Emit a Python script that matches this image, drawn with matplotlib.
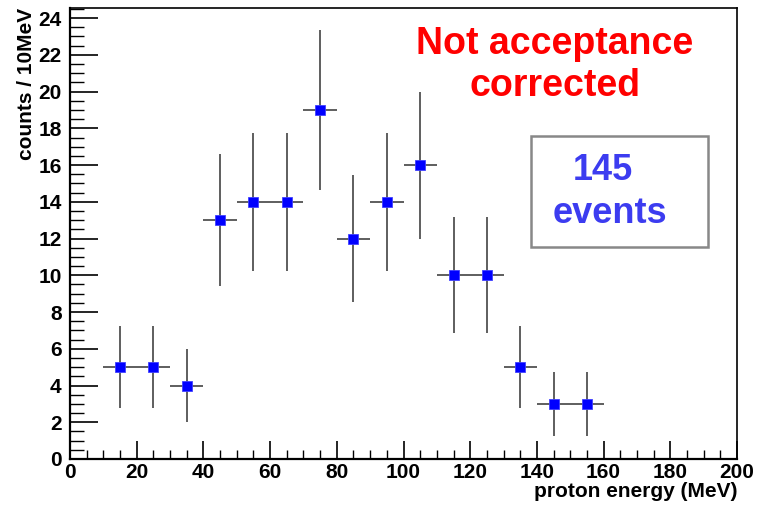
import matplotlib
matplotlib.use("Agg")
import matplotlib.pyplot as plt
from matplotlib.ticker import MultipleLocator
from matplotlib.patches import Rectangle

plt.rcParams['font.family'] = ['Liberation Sans', 'DejaVu Sans']

energy = [15, 25, 35, 45, 55, 65, 75, 85, 95, 105, 115, 125, 135, 145, 155]
counts = [5, 5, 4, 13, 14, 14, 19, 12, 14, 16, 10, 10, 5, 3, 3]
count_err = [2.24, 2.24, 2.0, 3.61, 3.74, 3.74, 4.36, 3.46, 3.74, 4.0, 3.16, 3.16, 2.24, 1.73, 1.73]
bin_half = [5] * len(energy)

fig = plt.figure(figsize=(7.57, 5.08), dpi=100)
ax = fig.add_axes([70/757, 49/508, 667/757, 451/508])

ax.errorbar(energy, counts, yerr=count_err, xerr=bin_half, fmt='s', color='#0000ff',
            markersize=7.2, markeredgecolor='#4040ff', markeredgewidth=0.6,
            ecolor='#333333', elinewidth=1.1, capsize=0, zorder=3)

ax.set_xlim(0, 200)
ax.set_ylim(0, 24.55)
ax.xaxis.set_major_locator(MultipleLocator(20))
ax.xaxis.set_minor_locator(MultipleLocator(5))
ax.yaxis.set_major_locator(MultipleLocator(2))
ax.yaxis.set_minor_locator(MultipleLocator(0.5))

for s in ['top', 'right']:
    ax.spines[s].set_linewidth(1.2)
for s in ['left', 'bottom']:
    ax.spines[s].set_linewidth(1.6)

ax.tick_params(axis='x', which='major', direction='in', length=13, width=1.2, labelsize=15, pad=3)
ax.tick_params(axis='x', which='minor', direction='in', length=6.5, width=1.0)
ax.tick_params(axis='y', which='major', direction='in', length=20, width=1.2, labelsize=15, pad=6)
ax.tick_params(axis='y', which='minor', direction='in', length=10, width=1.0)
for lab in ax.get_xticklabels() + ax.get_yticklabels():
    lab.set_fontweight('bold')

ax.set_xlabel('proton energy (MeV)', fontsize=15, fontweight='bold', loc='right', labelpad=0)
ax.set_ylabel('counts / 10MeV', fontsize=15, fontweight='bold', loc='top', labelpad=2)

fig.text(555/757, 1 - 44/508, 'Not acceptance', color='#ff0000', fontsize=27,
         fontweight='bold', ha='center', va='center')
fig.text(555/757, 1 - 86/508, 'corrected', color='#ff0000', fontsize=27,
         fontweight='bold', ha='center', va='center')

box = Rectangle((531/757, 1 - 247/508), 177/757, 111/508, transform=fig.transFigure,
                fill=False, edgecolor='#888888', linewidth=1.8)
fig.add_artist(box)
fig.text(603/757, 1 - 170/508, '145', color='#3c3cf0', fontsize=26,
         fontweight='bold', ha='center', va='center')
fig.text(610/757, 1 - 214/508, 'events', color='#3c3cf0', fontsize=26,
         fontweight='bold', ha='center', va='center')

fig.savefig('out.png', dpi=100)
